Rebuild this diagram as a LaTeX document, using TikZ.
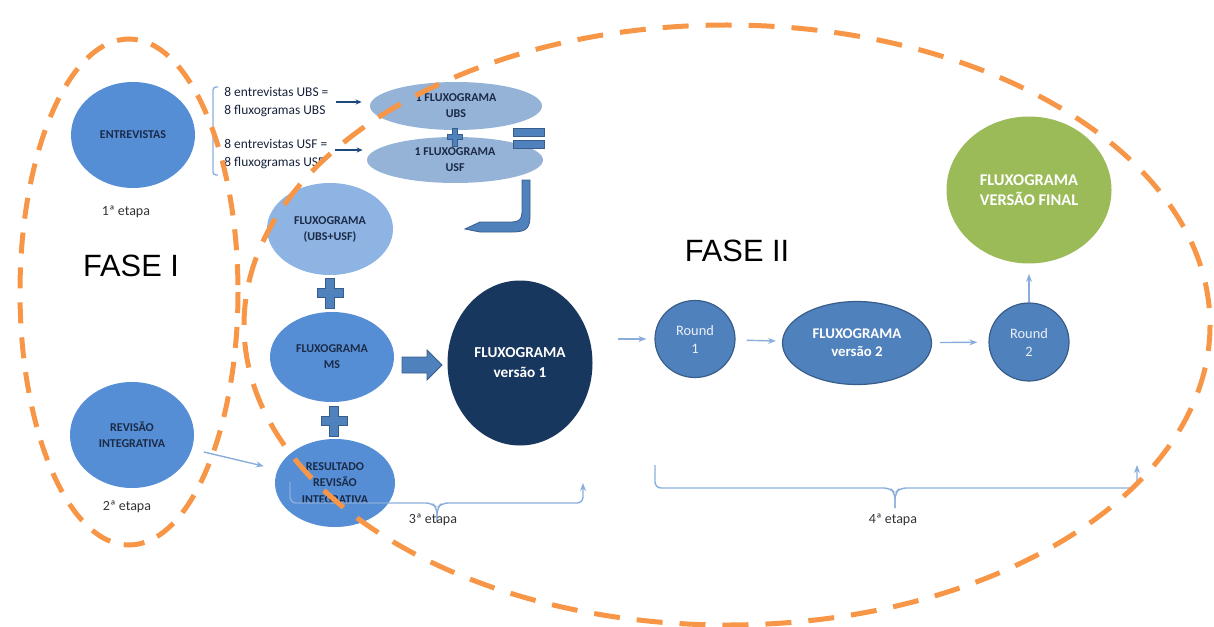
\documentclass[tikz,border=0pt]{standalone}
\usepackage{fontspec}
\setmainfont{Carlito}
\newfontfamily\arialfont{Liberation Sans}
\usetikzlibrary{shapes.geometric,arrows.meta}
\definecolor{paleblue}{HTML}{95B3D7}
\definecolor{lightblue}{HTML}{8DB4E2}
\definecolor{midblue}{HTML}{558ED5}
\definecolor{roundblue}{HTML}{4F81BD}
\definecolor{edgeblue}{HTML}{385D8A}
\definecolor{navy}{HTML}{17375E}
\definecolor{labelnavy}{HTML}{1B2A47}
\definecolor{leafgreen}{HTML}{9BBB59}
\definecolor{linkblue}{HTML}{8AAEDB}
\definecolor{arrowblue}{HTML}{1F497D}
\definecolor{faseorange}{HTML}{F79646}
\tikzset{
  oval/.style={ellipse, inner sep=0pt, align=center, text=labelnavy,
    font=\fontsize{6}{8}\selectfont\bfseries},
  bigoval/.style={ellipse, inner sep=0pt, align=center, text=white,
    font=\fontsize{7.6}{10}\selectfont\bfseries},
  roundnode/.style={ellipse, inner sep=0pt, align=center, fill=roundblue,
    draw=edgeblue, line width=0.6pt, text=white!88!roundblue,
    font=\fontsize{7.2}{9}\selectfont},
  note/.style={inner sep=0pt, align=left, text=labelnavy!80!black,
    font=\fontsize{6.7}{9}\selectfont},
  etapa/.style={inner sep=0pt, text=black!80, font=\fontsize{7}{8}\selectfont},
  fase/.style={inner sep=0pt, font=\arialfont\fontsize{15.4}{18}\selectfont},
  link/.style={draw=linkblue, line width=0.7pt, -{Stealth[length=4pt,width=3pt]}},
  darklink/.style={draw=arrowblue, line width=0.8pt, -{Stealth[length=3pt,width=2.6pt]}},
  bracket/.style={draw=linkblue, line width=0.7pt},
  blockshape/.style={fill=roundblue, draw=edgeblue, line width=0.4pt},
  faseline/.style={draw=faseorange, line width=2.5pt, dash pattern=on 10.5pt off 7pt},
  plusmark/.pic={
    \path[blockshape] (-4.5,-15) -- (4.5,-15) -- (4.5,-4.5) -- (13,-4.5) -- (13,4.5)
      -- (4.5,4.5) -- (4.5,15) -- (-4.5,15) -- (-4.5,4.5) -- (-13,4.5) -- (-13,-4.5)
      -- (-4.5,-4.5) -- cycle;
  }
}
\begin{document}
\begin{tikzpicture}[x=0.5pt, y=-0.5pt]
  \useasboundingbox (0,0) rectangle (1214,626);

  \node[oval, fill=midblue, minimum width=62pt, minimum height=53pt] (entrevistas) at (133,135) {ENTREVISTAS};
  \node[etapa] (etapa1) at (126,212) {1ª etapa};
  \node[oval, fill=midblue, minimum width=62pt, minimum height=53pt] (revisao) at (132,435) {REVISÃO\\INTEGRATIVA};
  \node[etapa] (etapa2) at (127,507) {2ª etapa};
  \node[fase] (fase1) at (131,266) {FASE I};

  \node[note, anchor=west] (notaubs) at (224,102) {8 entrevistas UBS =\\8 fluxogramas UBS};
  \node[note, anchor=west] (notausf) at (224,154) {8 entrevistas USF =\\8 fluxogramas USF};
  \draw[bracket, rounded corners=1.5pt] (218,87) -- (213,87) -- (213,175) -- (218,175);

  \node[oval, fill=paleblue, minimum width=86pt, minimum height=24pt] (fubs) at (456,106) {1 FLUXOGRAMA\\UBS};
  \node[oval, fill=paleblue, minimum width=88pt, minimum height=23pt] (fusf) at (455,160) {1 FLUXOGRAMA\\USF};
  \draw[darklink] ([xshift=3.5pt]notaubs.east) -- ([xshift=-4pt]fubs.west |- notaubs.east);
  \draw[darklink] ([xshift=3.5pt,yshift=2pt]notausf.east) -- ([xshift=-2pt,yshift=2pt]fusf.west |- notausf.east);
  \pic at (455,137) [scale=0.6] {plusmark};
  \path[blockshape] (513,128) rectangle (544,136);
  \path[blockshape] (513,140) rectangle (544,148);
  \path[blockshape] (522,180) -- (530,180) -- (530,215) .. controls (530,228) and (527,232) .. (512,232)
    -- (480,232) -- (465,229) -- (480,222) -- (512,222) .. controls (519,222) and (522,219) .. (522,212) -- cycle;

  \node[oval, fill=lightblue, minimum width=63pt, minimum height=46pt] (fmix) at (330,229) {FLUXOGRAMA\\(UBS+USF)};
  \pic at (330,293) {plusmark};
  \node[oval, fill=midblue, minimum width=62pt, minimum height=45pt] (fms) at (332,357) {FLUXOGRAMA\\MS};
  \pic at (334,421) {plusmark};
  \node[oval, fill=midblue, minimum width=60pt, minimum height=44pt, font=\fontsize{6}{8.2}\selectfont\bfseries] (fres) at (335,483) {RESULTADO\\REVISÃO\\INTEGRATIVA};
  \draw[link, shorten <=6pt, shorten >=7pt] (revisao) -- (fres);

  \path[blockshape] (402,357) -- (427,357) -- (427,350) -- (442,365) -- (427,380) -- (427,373) -- (402,373) -- cycle;
  \node[bigoval, fill=navy, minimum width=72.5pt, minimum height=82.5pt] (fv1) at (520,363) {FLUXOGRAMA\\versão 1};

  \draw[bracket, rounded corners=3pt] (290,482) -- (290,503) -- (432,503) -- (437,508) -- (437,522);
  \draw[bracket, rounded corners=3pt, -{Stealth[length=4pt,width=3pt]}] (437,522) -- (437,508) -- (442,503) -- (583,503) -- (583,483);
  \node[etapa] (etapa3) at (433,520) {3ª etapa};

  \node[fase] (fase2) at (737,251) {FASE II};
  \coordinate (entrada) at (618,339);
  \node[roundnode, minimum width=40pt, minimum height=38.5pt] (round1) at (695,339) {Round\\1};
  \node[bigoval, fill=roundblue, draw=edgeblue, line width=0.6pt, minimum width=74.5pt, minimum height=41.5pt, font=\fontsize{7.4}{9}\selectfont\bfseries] (fv2) at (857,343) {FLUXOGRAMA\\versão 2};
  \node[roundnode, minimum width=40pt, minimum height=39pt] (round2) at (1029,342) {Round\\2};
  \node[bigoval, fill=leafgreen, minimum width=82.5pt, minimum height=73.5pt, font=\fontsize{8.2}{10}\selectfont\bfseries] (final) at (1029,190) {FLUXOGRAMA\\VERSÃO FINAL};
  \draw[link, shorten >=4pt] (entrada) -- (round1);
  \draw[link, shorten <=5.5pt, shorten >=3pt] (round1) -- (fv2);
  \draw[link, shorten <=4pt, shorten >=5.5pt] (fv2) -- (round2);
  \draw[link, shorten >=5pt] (round2) -- (final);

  \draw[bracket, rounded corners=3pt] (655,465) -- (655,488) -- (890,488) -- (895,493) -- (895,508);
  \draw[bracket, rounded corners=3pt, -{Stealth[length=4pt,width=3pt]}] (895,508) -- (895,493) -- (900,488) -- (1137,488) -- (1137,465);
  \node[etapa] (etapa4) at (893,520) {4ª etapa};

  \draw[faseline] (129,292) ellipse [x radius=109, y radius=253];
  \draw[faseline, dash pattern=on 13pt off 8.5pt] (727,325) ellipse [x radius=483, y radius=300];
\end{tikzpicture}
\end{document}
